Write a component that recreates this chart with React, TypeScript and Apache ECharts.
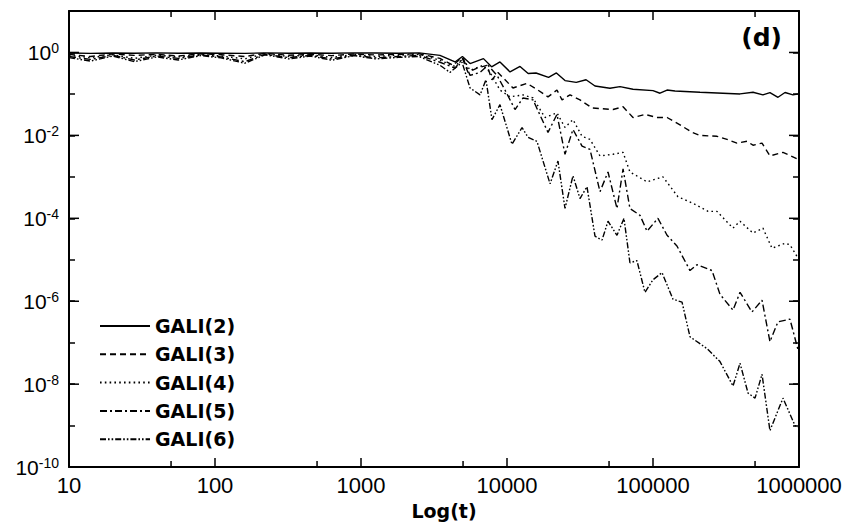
import React, { useEffect, useRef } from "react";
import * as echarts from "echarts";

// ---- axis ranges and tick labels ----
const X_MIN = 10;
const X_MAX = 1000000;
const Y_MIN = 1e-10;
const Y_MAX = 10;
const X_DECADE_TICKS = [10, 100, 1000, 10000, 100000, 1000000];
const X_HALF_DECADE_TICKS = [50, 500, 5000, 50000, 500000];
const Y_DECADE_TICKS = [1e-10, 1e-9, 1e-8, 1e-7, 1e-6, 1e-5, 1e-4, 1e-3, 1e-2, 1e-1, 1, 10];
const Y_LABELED_TICKS = [1e-10, 1e-8, 1e-6, 1e-4, 1e-2, 1];

const SERIES_NAMES = ["GALI(2)", "GALI(3)", "GALI(4)", "GALI(5)", "GALI(6)"];

// ---- early (t < 3000) part: shared times ----
const EARLY_T = [10, 14, 20, 28, 40, 56, 80, 110, 160, 220, 320, 450, 630, 900, 1250, 1800, 2500];
const GALI2_EARLY = [0.97, 0.95, 0.97, 0.96, 0.98, 0.96, 0.97, 0.96, 0.95, 0.98, 0.96, 0.97, 0.96, 0.98, 0.97, 0.96, 0.98];
const GALI3_EARLY = [0.9, 0.8, 0.92, 0.85, 0.9, 0.82, 0.93, 0.88, 0.8, 0.95, 0.86, 0.9, 0.84, 0.92, 0.87, 0.9, 0.93];
const GALI4_EARLY = [0.85, 0.75, 0.88, 0.72, 0.86, 0.78, 0.9, 0.82, 0.7, 0.93, 0.8, 0.88, 0.76, 0.9, 0.8, 0.86, 0.9];
const GALI5_EARLY = [0.8, 0.68, 0.85, 0.66, 0.82, 0.72, 0.87, 0.78, 0.6, 0.9, 0.75, 0.85, 0.7, 0.86, 0.74, 0.8, 0.85];
const GALI6_EARLY = [0.75, 0.62, 0.82, 0.6, 0.78, 0.66, 0.84, 0.74, 0.55, 0.88, 0.7, 0.82, 0.65, 0.84, 0.7, 0.76, 0.8];

// ---- late part: [t, value] ----
const GALI2_LATE = [
  [3475, 0.85], [4405, 0.59], [4950, 0.8], [5585, 0.54], [6900, 0.71], [7840, 0.45], [8950, 0.59],
  [10490, 0.34], [12280, 0.46], [13960, 0.31], [15800, 0.32], [19260, 0.25], [21800, 0.32], [24960, 0.21],
  [29800, 0.19], [34800, 0.22], [40060, 0.155], [50700, 0.137], [59420, 0.15], [72950, 0.13],
  [100000, 0.12], [111700, 0.104], [124800, 0.124], [141500, 0.118], [209900, 0.11], [394500, 0.1],
  [484200, 0.11], [566200, 0.095], [632400, 0.108], [718000, 0.083], [802000, 0.108], [909800, 0.095],
  [1000000, 0.1],
];
const GALI3_LATE = [
  [3475, 0.72], [4266, 0.49], [4920, 0.76], [5410, 0.33], [6240, 0.42], [7290, 0.49], [7890, 0.22],
  [8670, 0.33], [10990, 0.139], [13710, 0.18], [16290, 0.124], [19090, 0.085], [21990, 0.124],
  [23820, 0.072], [27020, 0.095], [31620, 0.072], [38190, 0.046], [53210, 0.042], [62370, 0.049],
  [72950, 0.027], [88080, 0.032], [106400, 0.027], [124800, 0.027], [153100, 0.018], [185000, 0.0118],
  [209900, 0.01], [274200, 0.0095], [321300, 0.008], [375800, 0.0065], [440300, 0.0072], [484200, 0.0058],
  [558100, 0.0065], [632400, 0.0032], [776600, 0.0039], [1000000, 0.0026],
];
const GALI4_LATE = [
  [3475, 0.65], [4405, 0.46], [5000, 0.72], [5585, 0.37], [6855, 0.49], [7655, 0.33], [8950, 0.124],
  [10490, 0.085], [12880, 0.095], [15070, 0.08], [18200, 0.027], [21990, 0.035], [24960, 0.0155],
  [28310, 0.024], [32660, 0.0095], [37010, 0.008], [43340, 0.0032], [53210, 0.0035], [62370, 0.0039],
  [69500, 0.00131], [91000, 0.00076], [117000, 0.001], [148300, 0.00033], [187900, 0.00023],
  [238200, 0.000147], [274200, 0.000147], [353200, 0.000058], [394500, 0.000085], [484200, 0.000044],
  [566200, 0.000058], [653100, 0.000019], [802000, 0.000025], [867000, 0.000023], [1000000, 0.00001],
];
const GALI5_LATE = [
  [3475, 0.58], [4405, 0.42], [5000, 0.72], [5585, 0.28], [6540, 0.33], [7410, 0.49], [8550, 0.28],
  [9690, 0.124], [11350, 0.042], [12880, 0.08], [15070, 0.072], [19090, 0.0118], [21990, 0.032],
  [24960, 0.0035], [28310, 0.0139], [32660, 0.0055], [37010, 0.0046], [43340, 0.00044], [49190, 0.00131],
  [56660, 0.000173], [62370, 0.00155], [69500, 0.000173], [81470, 0.000118], [91000, 0.000049],
  [108100, 0.0001], [124800, 0.000039], [145900, 0.0000215], [179200, 5.5e-6], [200000, 7.6e-6],
  [253600, 5.5e-6], [287600, 1.47e-6], [353200, 6.1e-7], [394500, 1.64e-6], [476400, 5.5e-7],
  [558100, 1.06e-6], [632400, 1.06e-7], [718000, 3.2e-7], [867000, 3.7e-7], [1000000, 5.5e-8],
];
const GALI6_LATE = [
  [3475, 0.49], [4070, 0.33], [4920, 0.58], [5585, 0.139], [6540, 0.095], [7180, 0.22], [7890, 0.024],
  [8950, 0.055], [10820, 0.0061], [12680, 0.0155], [13930, 0.009], [16040, 0.0072], [19720, 0.00068],
  [22340, 0.0024], [24960, 0.000173], [28310, 0.00106], [31620, 0.0003], [35300, 0.00058],
  [40060, 0.000037], [44770, 0.00003], [49190, 0.000085], [56660, 0.000039], [63270, 0.0001],
  [69500, 8.5e-6], [77640, 9.5e-6], [88080, 1.64e-6], [100000, 3.3e-6], [115300, 4.9e-6],
  [137000, 1.12e-6], [158100, 9.5e-7], [179200, 1.39e-7], [234400, 7.2e-8], [287600, 3.5e-8],
  [353200, 9.0e-9], [394500, 3.2e-8], [447700, 6.1e-9], [500000, 4.6e-9], [558100, 1.73e-8],
  [632400, 7.6e-10], [776600, 4.6e-9], [939700, 1.0e-9], [1000000, 9.0e-10],
];

const DASHES: (string | number[])[] = ["solid", [6, 4], [1.6, 3.2], [7, 3, 2, 3], [6, 2, 1.6, 2, 1.6, 2]];

function joinData(early: number[], late: number[][]) {
  return EARLY_T.map((t, i) => [t, early[i]]).concat(late);
}

export default function App() {
  const ref = useRef<HTMLDivElement>(null);
  useEffect(() => {
    if (!ref.current) return;
    const chart = echarts.init(ref.current, null, { renderer: "svg" });
    const all = [
      joinData(GALI2_EARLY, GALI2_LATE),
      joinData(GALI3_EARLY, GALI3_LATE),
      joinData(GALI4_EARLY, GALI4_LATE),
      joinData(GALI5_EARLY, GALI5_LATE),
      joinData(GALI6_EARLY, GALI6_LATE),
    ];
    const lineSeries = all.map((data, i) => ({
      type: "line",
      name: SERIES_NAMES[i],
      data,
      symbol: "none",
      showSymbol: false,
      silent: true,
      lineStyle: { color: "#000", width: 1.4, type: DASHES[i] },
      itemStyle: { color: "#000" },
    }));
    const tickStyle = { stroke: "#000", lineWidth: 1.5 };
    const axisCommon = {
      type: "log",
      logBase: 10,
      splitLine: { show: false },
      axisLine: { show: true, lineStyle: { color: "#000", width: 2 } },
    };
    chart.setOption({
      animation: false,
      backgroundColor: "#fff",
      title: {
        text: "(d)",
        right: 63,
        top: 20,
        textStyle: { fontFamily: "DejaVu Sans", fontWeight: "bold", fontSize: 25, color: "#000" },
      },
      legend: {
        data: SERIES_NAMES,
        orient: "vertical",
        left: 94,
        top: 311,
        itemWidth: 50,
        itemHeight: 14,
        itemGap: 8.3,
        itemStyle: { opacity: 0 },
        textStyle: { fontFamily: "DejaVu Sans", fontWeight: "bold", fontSize: 19, lineHeight: 20, color: "#000" },
      },
      grid: { left: 69, right: 51, top: 11, bottom: 53, containLabel: false },
      xAxis: [
        {
          ...axisCommon,
          position: "bottom",
          min: X_MIN,
          max: X_MAX,
          name: "Log(t)",
          nameLocation: "middle",
          nameGap: 32,
          nameTextStyle: {
            fontFamily: "DejaVu Sans",
            fontWeight: "bold",
            fontSize: 19,
            color: "#000",
            padding: [0, 0, 0, 20],
          },
          axisTick: {
            show: true,
            inside: true,
            length: 9,
            customValues: X_DECADE_TICKS,
            lineStyle: { color: "#000", width: 1.5 },
          },
          axisLabel: {
            show: true,
            margin: 7,
            fontFamily: "Liberation Sans",
            fontSize: 22,
            color: "#000",
            hideOverlap: false,
            customValues: X_DECADE_TICKS,
            formatter: (v: number) => String(Math.round(v)),
          },
        },
        {
          ...axisCommon,
          position: "top",
          min: X_MIN,
          max: X_MAX,
          axisTick: {
            show: true,
            inside: true,
            length: 9,
            customValues: X_DECADE_TICKS,
            lineStyle: { color: "#000", width: 1.5 },
          },
          axisLabel: { show: false },
        },
      ],
      yAxis: [
        {
          ...axisCommon,
          position: "left",
          min: Y_MIN,
          max: Y_MAX,
          axisTick: {
            show: true,
            inside: true,
            length: 6,
            customValues: Y_DECADE_TICKS,
            lineStyle: { color: "#000", width: 1.5 },
          },
          axisLabel: {
            show: true,
            margin: 10,
            hideOverlap: false,
            customValues: Y_LABELED_TICKS,
            formatter: (v: number) => {
              const e = Math.round(Math.log10(v));
              return `{b|10}{s|${e}}`;
            },
            rich: {
              b: { fontFamily: "Liberation Sans", fontSize: 21, lineHeight: 22, color: "#000" },
              s: { fontFamily: "Liberation Sans", fontSize: 14, lineHeight: 14, color: "#000", verticalAlign: "top" },
            },
          },
        },
        {
          ...axisCommon,
          position: "right",
          min: Y_MIN,
          max: Y_MAX,
          axisTick: {
            show: true,
            inside: true,
            length: 6,
            customValues: Y_DECADE_TICKS,
            lineStyle: { color: "#000", width: 1.5 },
          },
          axisLabel: { show: false },
        },
      ],
      series: [
        ...lineSeries,
        {
          type: "custom",
          name: "xHalfTicks",
          silent: true,
          xAxisIndex: 0,
          yAxisIndex: 0,
          data: X_HALF_DECADE_TICKS.map((t) => [t, 1]),
          renderItem: (params: any, api: any) => {
            const t = api.value(0);
            const b = api.coord([t, Y_MIN]);
            const tp = api.coord([t, Y_MAX]);
            return {
              type: "group",
              children: [
                { type: "line", shape: { x1: b[0], y1: b[1], x2: b[0], y2: b[1] - 6 }, style: tickStyle },
                { type: "line", shape: { x1: tp[0], y1: tp[1], x2: tp[0], y2: tp[1] + 6 }, style: tickStyle },
              ],
            };
          },
        },
        {
          type: "custom",
          name: "yMajorTicks",
          silent: true,
          xAxisIndex: 0,
          yAxisIndex: 0,
          data: Y_LABELED_TICKS.map((v) => [X_MIN, v]),
          renderItem: (params: any, api: any) => {
            const v = api.value(1);
            const l = api.coord([X_MIN, v]);
            const r = api.coord([X_MAX, v]);
            return {
              type: "group",
              children: [
                { type: "line", shape: { x1: l[0], y1: l[1], x2: l[0] + 10, y2: l[1] }, style: tickStyle },
                { type: "line", shape: { x1: r[0], y1: r[1], x2: r[0] - 10, y2: r[1] }, style: tickStyle },
              ],
            };
          },
        },
      ],
    });
    return () => chart.dispose();
  }, []);
  return (
    <div
      ref={ref}
      style={{ position: "fixed", left: 0, top: 0, width: 850, height: 525, background: "#fff" }}
    />
  );
}
